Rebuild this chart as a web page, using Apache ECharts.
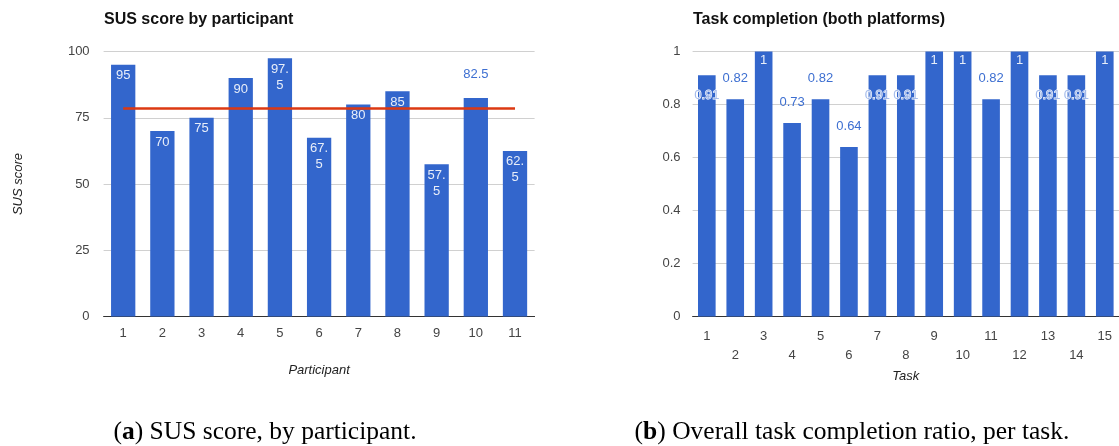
<!DOCTYPE html>
<html><head><meta charset="utf-8">
<script src="https://cdn.jsdelivr.net/npm/echarts@6/dist/echarts.min.js"></script>
<style>html,body{margin:0;padding:0;background:#fff}#c{width:1119px;height:446px}</style>
</head><body><div id="c"></div>
<script>
// ---- data ----
const participants = ['1','2','3','4','5','6','7','8','9','10','11'];
const susScores = [95, 70, 75, 90, 97.5, 67.5, 80, 85, 57.5, 82.5, 62.5];
const susTicks = [0, 25, 50, 75, 100];
const tasks = ['1','2','3','4','5','6','7','8','9','10','11','12','13','14','15'];
const completion = [0.91, 0.82, 1, 0.73, 0.82, 0.64, 0.91, 0.91, 1, 1, 0.82, 1, 0.91, 0.91, 1];
const completionTicks = [0, 0.2, 0.4, 0.6, 0.8, 1];
const chartTitles = ['SUS score by participant', 'Task completion (both platforms)'];
const axisNames = { susX: 'Participant', susY: 'SUS score', taskX: 'Task' };
const captionA = ['a', ' SUS score, by participant.'];
const captionB = ['b', ' Overall task completion ratio, per task.'];

// ---- styling ----
const FONT = '"Liberation Sans", Arial, sans-serif';
const SERIF = '"Liberation Serif", serif';
const BLUE = '#3366cc';
const INSIDE_TXT = '#e8eef9';
const OUT_TXT = '#3d6fd1';
const susMean = susScores.reduce((a, b) => a + b, 0) / susScores.length;

const susData = susScores.map((v, i) => {
  if (i === 9) {
    return { value: v, label: { position: 'top', distance: 15, color: OUT_TXT } };
  }
  return { value: v, label: { position: 'insideTop', distance: 3, color: INSIDE_TXT, width: 24, overflow: 'breakAll' } };
});
const taskData = completion.map(v => {
  if (v >= 1) return { value: v, label: { position: 'insideTop', distance: 2, color: INSIDE_TXT } };
  if (v > 0.9) return { value: v, label: { position: 'insideTop', distance: 14, color: '#a4bbeb', textBorderColor: '#ffffff', textBorderWidth: 1 } };
  return { value: v, label: { position: 'top', distance: 14, color: OUT_TXT } };
});

const axisLabelY = { color: '#444', fontSize: 13, fontFamily: FONT };
const splitLine = { show: true, lineStyle: { color: '#d0d0d0', width: 1 } };
const nameStyle = { color: '#222', fontSize: 13, fontStyle: 'italic', fontFamily: FONT };

const option = {
  animation: false,
  backgroundColor: '#ffffff',
  title: [
    { text: chartTitles[0], left: 104, top: 12, padding: 0,
      textStyle: { fontFamily: FONT, fontSize: 16, fontWeight: 'bold', color: '#111' } },
    { text: chartTitles[1], left: 693, top: 12, padding: 0,
      textStyle: { fontFamily: FONT, fontSize: 16, fontWeight: 'bold', color: '#111' } }
  ],
  grid: [
    { left: 103.6, top: 51.5, width: 431, height: 265, containLabel: false },
    { left: 692.6, top: 51.5, width: 430.5, height: 265, containLabel: false }
  ],
  xAxis: [
    { type: 'category', gridIndex: 0, data: participants,
      axisLine: { show: true, lineStyle: { color: '#333', width: 1 } },
      axisTick: { show: false },
      axisLabel: { color: '#444', fontSize: 13, fontFamily: FONT, margin: 10 },
      name: axisNames.susX, nameLocation: 'middle', nameGap: 47, nameTextStyle: nameStyle },
    { type: 'category', gridIndex: 1, data: tasks,
      axisLine: { show: true, lineStyle: { color: '#333', width: 1 } },
      axisTick: { show: false },
      axisLabel: { color: '#444', fontSize: 13, fontFamily: FONT, margin: 10, interval: 0, lineHeight: 19,
        formatter: (val, idx) => (idx % 2 === 1 ? '\n' + val : val) },
      name: axisNames.taskX, nameLocation: 'middle', nameGap: 47, nameTextStyle: nameStyle }
  ],
  yAxis: [
    { type: 'value', gridIndex: 0, min: susTicks[0], max: susTicks[susTicks.length - 1],
      interval: susTicks[1] - susTicks[0],
      axisLine: { show: false }, axisTick: { show: false },
      axisLabel: Object.assign({ margin: 14 }, axisLabelY), splitLine,
      name: axisNames.susY, nameLocation: 'middle', nameGap: 79, nameTextStyle: nameStyle },
    { type: 'value', gridIndex: 1, min: completionTicks[0], max: completionTicks[completionTicks.length - 1],
      interval: completionTicks[1] - completionTicks[0],
      axisLine: { show: false }, axisTick: { show: false },
      axisLabel: Object.assign({ margin: 12 }, axisLabelY), splitLine }
  ],
  series: [
    { type: 'bar', xAxisIndex: 0, yAxisIndex: 0, data: susData, barWidth: '62%',
      itemStyle: { color: BLUE },
      label: { show: true, fontSize: 13, fontFamily: FONT, lineHeight: 16 },
      markLine: { silent: true, symbol: ['none', 'none'], label: { show: false },
        lineStyle: { color: '#dc3912', width: 2.5, type: 'solid' },
        data: [[ { coord: [participants[0], susMean] }, { coord: [participants[participants.length - 1], susMean] } ]] } },
    { type: 'bar', xAxisIndex: 1, yAxisIndex: 1, data: taskData, barWidth: '62%',
      itemStyle: { color: BLUE },
      label: { show: true, fontSize: 13, fontFamily: FONT } }
  ],
  graphic: [
    { type: 'text', x: 265, y: 432,
      style: { text: '({b|' + captionA[0] + '})' + captionA[1], fontSize: 25.5, fontFamily: SERIF,
        fill: '#000', align: 'center', verticalAlign: 'middle',
        rich: { b: { fontWeight: 'bold', fontSize: 25.5, fontFamily: SERIF } } } },
    { type: 'text', x: 852, y: 432,
      style: { text: '({b|' + captionB[0] + '})' + captionB[1], fontSize: 25.5, fontFamily: SERIF,
        fill: '#000', align: 'center', verticalAlign: 'middle',
        rich: { b: { fontWeight: 'bold', fontSize: 25.5, fontFamily: SERIF } } } }
  ]
};

const chart = echarts.init(document.getElementById('c'), null, { renderer: 'canvas' });
chart.setOption(option);
</script>
</body></html>
